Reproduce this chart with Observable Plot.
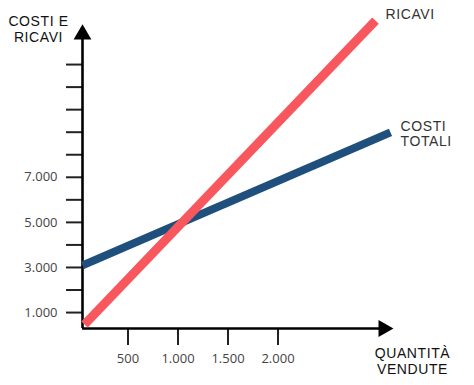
<!DOCTYPE html>
<html><head><meta charset="utf-8">
<script src="https://cdn.jsdelivr.net/npm/d3@7"></script>
<script src="https://cdn.jsdelivr.net/npm/@observablehq/plot@0.6"></script>
<style>
body{margin:0;background:#fff;}
#chart svg{overflow:visible;}
.wide text{letter-spacing:0.6px;}
</style>
</head><body><div id="chart"></div>
<script>
// values
const costiX = [45, 3125];
const costiY = [3090, 8990];
const ricaviX = [65, 2975];
const ricaviY = [470, 13950];
const yTicks = [1000,2000,3000,4000,5000,6000,7000,8000,9000,10000,11000,12000];
const yLabeled = [1000,3000,5000,7000];
const xTicks = [500,1000,1500,2000];
const seriesNames = ["COSTI\nTOTALI", "RICAVI"];
const yTitle = "COSTI E\nRICAVI";
const xTitle = "QUANTITÀ\nVENDUTE";

const xDomain = [45, 3155];
const yDomain = [293, 13777];

const costi = costiX.map((x, i) => ({x, y: costiY[i]}));
const ricavi = ricaviX.map((x, i) => ({x, y: ricaviY[i]}));

const it = d3.formatLocale({decimal: ",", thousands: ".", grouping: [3], currency: ["€", ""]});
const fmt = it.format(",");

const font = "'Open Sans', sans-serif";
const titleFont = "'Liberation Sans', Arial, sans-serif";
const yArrowVal = 13334;  // centre of arrow head on the y axis
const xArrowVal = 3055;   // centre of arrow head on the x axis

const chart = Plot.plot({
  width: 474,
  height: 385,
  marginLeft: 82,
  marginRight: 81,
  marginTop: 24,
  marginBottom: 57,
  x: {domain: xDomain, label: null},
  y: {domain: yDomain, label: null},
  style: {fontFamily: font, fontSize: "13px", color: "#333", background: "#fff"},
  marks: [
    Plot.axisY({ticks: yTicks, label: null, tickSize: 16, tickPadding: 9, strokeWidth: 2, stroke: "#222", fill: "#444",
      fontSize: 13, tickFormat: d => yLabeled.includes(d) ? fmt(d) : ""}),
    Plot.axisX({ticks: xTicks, label: null, tickSize: 17, tickPadding: 8, strokeWidth: 2, stroke: "#222", fill: "#444",
      fontSize: 13, tickFormat: d => fmt(d)}),
    Plot.ruleX([xDomain[0]], {y1: yDomain[0], y2: yArrowVal, stroke: "#000", strokeWidth: 2.6}),
    Plot.ruleY([yDomain[0]], {x1: xDomain[0], x2: xArrowVal, stroke: "#000", strokeWidth: 2.6}),
    Plot.dot([{x: xDomain[0], y: yArrowVal}], {x: "x", y: "y", symbol: "triangle", r: 6.6, fill: "#000", stroke: null}),
    Plot.dot([{x: xArrowVal, y: yDomain[0]}], {x: "x", y: "y", symbol: "triangle", r: 6.4, fill: "#000", stroke: null, rotate: 90}),
    Plot.line(costi, {x: "x", y: "y", stroke: "#1f4f7d", strokeWidth: 8, strokeLinecap: "butt"}),
    Plot.line(ricavi, {x: "x", y: "y", stroke: "#f8575e", strokeWidth: 9, strokeLinecap: "butt"}),
    Plot.text([costi[costi.length-1]], {x: "x", y: "y", text: () => seriesNames[0], textAnchor: "start",
      lineAnchor: "middle", dx: 10, dy: 1, fontSize: 14, lineHeight: 1.12, fill: "#333",
      fontFamily: titleFont, className: "wide"}),
    Plot.text([ricavi[ricavi.length-1]], {x: "x", y: "y", text: () => seriesNames[1], textAnchor: "start",
      lineAnchor: "middle", dx: 10, dy: -6, fontSize: 14, fill: "#333", fontFamily: titleFont, className: "wide"}),
    Plot.text([yTitle], {frameAnchor: "top-left", text: d => d, textAnchor: "middle", lineAnchor: "middle",
      dx: -44, dy: 4.5, fontSize: 14, lineHeight: 1.12, fill: "#111", fontFamily: titleFont, className: "wide"}),
    Plot.text([xTitle], {frameAnchor: "bottom-right", text: d => d, textAnchor: "middle", lineAnchor: "middle",
      dx: 19, dy: 32, fontSize: 14, lineHeight: 1.15, fill: "#111", fontFamily: titleFont, className: "wide"})
  ]
});
document.getElementById("chart").appendChild(chart);
</script>
</body></html>
